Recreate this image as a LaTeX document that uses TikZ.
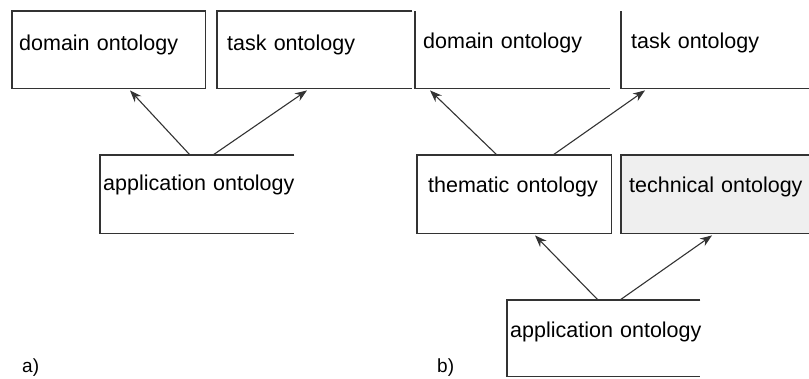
\documentclass[tikz,border=0pt]{standalone}
\usepackage{fontspec}
\setmainfont{Liberation Sans}
\usetikzlibrary{arrows.meta}
\definecolor{edge}{HTML}{333333}
\definecolor{techfill}{HTML}{EFEFEF}
\tikzset{
  box/.style={draw=none, rectangle, anchor=north west, align=left,
    inner ysep=0pt, inner xsep=7pt, font=\fontsize{21.5}{24}\selectfont},
  side/.style={draw=edge, line width=1.1pt},
  arr/.style={draw=edge, line width=1.1pt, -{Stealth[length=12pt,width=9pt]}},
  lab/.style={anchor=base west, inner sep=0pt, font=\fontsize{19}{22}\selectfont}
}
\begin{document}
\begin{tikzpicture}[x=1pt,y=-1pt]
\useasboundingbox (0,0) rectangle (809,378);
\begin{scope}
\clip (0,0) rectangle (809,378);
% a)
\node[box, text width=179pt, text height=39pt, text depth=38pt] (dA) at (12,11) {\mbox{domain ontology}};
\node[box, text width=175pt, text height=39pt, text depth=38pt, inner xsep=10pt] (tA) at (217,11) {\mbox{task ontology}};
\node[box, text width=188pt, text height=35pt, text depth=43pt, inner xsep=3pt] (apA) at (100,155) {\mbox{application ontology}};
% b)
\node[box, text width=179pt, text height=37pt, text depth=40pt, inner xsep=8pt] (dB) at (415,11) {\mbox{domain ontology}};
\node[box, text width=189pt, text height=37pt, text depth=40pt, inner xsep=10pt] (tB) at (621,11) {\mbox{task ontology}};
\node[box, text width=172pt, text height=37pt, text depth=41pt, inner xsep=11pt] (thB) at (417,155) {\mbox{thematic ontology}};
\node[box, fill=techfill, text width=193pt, text height=37pt, text depth=41pt, inner xsep=8pt] (teB) at (621,155) {\mbox{technical ontology}};
\node[box, text width=187pt, text height=37pt, text depth=39.5pt, inner xsep=3pt] (apB) at (507,300) {\mbox{application ontology}};
% visible box sides
\draw[side] (dA.north west) rectangle (dA.south east);
\draw[side] (tA.north east) -- (tA.north west) -- (tA.south west) -- (tA.south east);
\draw[side] (apA.north east) -- (apA.north west) -- (apA.south west) -- (apA.south east);
\draw[side] (dB.north west) -- (dB.south west) -- (dB.south east);
\draw[side] (tB.north west) -- (tB.south west) -- (tB.south east);
\draw[side] (thB.north west) rectangle (thB.south east);
\draw[side] (teB.north east) -- (teB.north west) -- (teB.south west) -- (teB.south east);
\draw[side] (apB.north east) -- (apB.north west) -- (apB.south west) -- (apB.south east);
\end{scope}
% arrows
\draw[arr] ([xshift=90pt]apA.north west) -- ([xshift=118pt,yshift=-2pt]dA.south west);
\draw[arr] ([xshift=113pt]apA.north west) -- ([xshift=90pt,yshift=-2pt]tA.south west);
\draw[arr] ([xshift=80pt]thB.north west) -- ([xshift=15pt,yshift=-2pt]dB.south west);
\draw[arr] ([xshift=136pt]thB.north west) -- ([xshift=24pt,yshift=-2pt]tB.south west);
\draw[arr] ([xshift=91pt]apB.north west) -- ([xshift=118pt,yshift=-2pt]thB.south west);
\draw[arr] ([xshift=113pt]apB.north west) -- ([xshift=91pt,yshift=-2pt]teB.south west);
% labels
\node[lab] (la) at (22,372) {a)};
\node[lab] (lb) at (437,372) {b)};
\end{tikzpicture}
\end{document}
